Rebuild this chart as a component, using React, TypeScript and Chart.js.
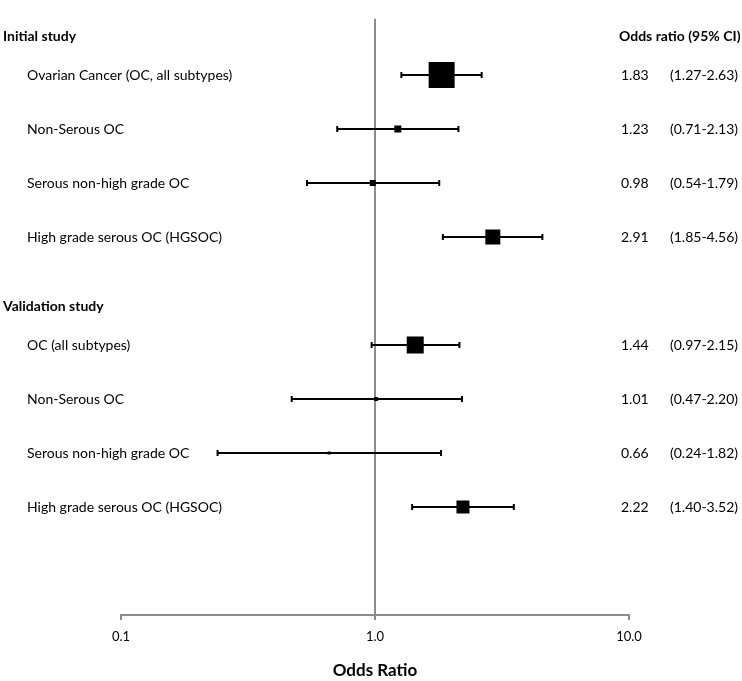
import React, { useEffect, useRef } from 'react';
import { Chart, registerables } from 'chart.js';

Chart.register(...registerables);

const groupTitles = ['Initial study', 'Validation study'];
const rowLabels = [
  'Ovarian Cancer (OC, all subtypes)',
  'Non-Serous OC',
  'Serous non-high grade OC',
  'High grade serous OC (HGSOC)',
  'OC (all subtypes)',
  'Non-Serous OC',
  'Serous non-high grade OC',
  'High grade serous OC (HGSOC)',
];
const rowGroup = [0, 0, 0, 0, 1, 1, 1, 1];
const oddsRatio = [1.83, 1.23, 0.98, 2.91, 1.44, 1.01, 0.66, 2.22];
const ciLower = [1.27, 0.71, 0.54, 1.85, 0.97, 0.47, 0.24, 1.4];
const ciUpper = [2.63, 2.13, 1.79, 4.56, 2.15, 2.2, 1.82, 3.52];
const orText = ['1.83', '1.23', '0.98', '2.91', '1.44', '1.01', '0.66', '2.22'];
const ciText = ['(1.27-2.63)', '(0.71-2.13)', '(0.54-1.79)', '(1.85-4.56)', '(0.97-2.15)', '(0.47-2.20)', '(0.24-1.82)', '(1.40-3.52)'];
const studyWeight = [26, 7, 6, 15, 17, 4, 3, 13];
const xTickValues = [0.1, 1, 10];
const xTickLabels = ['0.1', '1.0', '10.0'];
const refValue = 1;

const FONT = 'Lato, "Open Sans", sans-serif';
const GRAY = '#8c8c8c';

// row position: group header at g*5, its rows after it
const rowPos = rowLabels.map((_, i) => {
  const g = rowGroup[i];
  const within = rowGroup.slice(0, i).filter((x) => x === g).length;
  return g * 5 + within + 1;
});
const headerPos = groupTitles.map((_, g) => g * 5 + 0.28);

const textPlugin = {
  id: 'forestText',
  afterDraw(chart: any) {
    const ctx = chart.ctx;
    const y = chart.scales.y;
    ctx.save();
    ctx.fillStyle = '#000';
    ctx.textBaseline = 'middle';
    ctx.textAlign = 'left';
    ctx.font = `bold 14px ${FONT}`;
    groupTitles.forEach((t, g) => {
      ctx.fillText(t, 3, y.getPixelForValue(headerPos[g]));
    });
    ctx.fillText('Odds ratio (95% CI)', 619, y.getPixelForValue(headerPos[0]));
    ctx.font = `14px ${FONT}`;
    rowLabels.forEach((t, i) => {
      const py = y.getPixelForValue(rowPos[i]);
      ctx.fillText(t, 27, py);
      ctx.fillText(orText[i], 621, py);
      ctx.fillText(ciText[i], 670, py);
    });
    ctx.restore();
  },
};

export default function App() {
  const ref = useRef<HTMLCanvasElement | null>(null);
  useEffect(() => {
    if (!ref.current) return;
    const datasets: any[] = [];
    datasets.push({
      type: 'scatter',
      data: rowPos.map((r, i) => ({ x: oddsRatio[i], y: r })),
      pointStyle: 'rect',
      pointRadius: studyWeight.map((s) => s / Math.SQRT2),
      pointHoverRadius: studyWeight.map((s) => s / Math.SQRT2),
      backgroundColor: '#000',
      borderWidth: 0,
      pointBorderWidth: 0,
      order: 0,
    });
    rowPos.forEach((r, i) => {
      datasets.push({
        type: 'line',
        data: [
          { x: ciLower[i], y: r },
          { x: ciUpper[i], y: r },
        ],
        borderColor: '#000',
        borderWidth: 2,
        pointStyle: 'line',
        rotation: 90,
        pointRadius: 3,
        pointBorderWidth: 2,
        pointBorderColor: '#000',
        order: 1,
      });
    });
    datasets.push({
      type: 'line',
      data: [
        { x: refValue, y: -0.05 },
        { x: refValue, y: 11 },
      ],
      borderColor: GRAY,
      borderWidth: 2,
      pointRadius: 0,
      order: 2,
    });

    const chart = new Chart(ref.current, {
      type: 'scatter',
      data: { datasets },
      plugins: [textPlugin],
      options: {
        responsive: false,
        animation: false,
        events: [],
        layout: { padding: { left: 121, right: 113, top: 15, bottom: 0 } },
        plugins: { legend: { display: false }, tooltip: { enabled: false } },
        scales: {
          x: {
            type: 'logarithmic',
            min: 0.1,
            max: 10,
            afterBuildTicks: (s: any) => {
              s.ticks = xTickValues.map((v) => ({ value: v }));
            },
            afterFit: (s: any) => {
              s.paddingLeft = 0;
              s.paddingRight = 0;
            },
            ticks: {
              autoSkip: false,
              maxRotation: 0,
              color: '#000',
              padding: 9,
              font: { family: FONT, size: 13 },
              callback: (_v: any, i: number) => xTickLabels[i],
            },
            grid: {
              drawOnChartArea: false,
              drawTicks: true,
              tickLength: 5,
              color: GRAY,
              lineWidth: 2,
            },
            border: { display: true, color: GRAY, width: 2 },
            title: {
              display: true,
              text: 'Odds Ratio',
              color: '#000',
              font: { family: FONT, size: 17, weight: 'bold' },
              padding: { top: 7, bottom: 0 },
            },
          },
          y: {
            type: 'linear',
            reverse: true,
            min: -0.05,
            max: 11,
            display: false,
          },
        },
      },
    } as any);
    return () => chart.destroy();
  }, []);
  return (
    <div style={{ position: 'fixed', left: 0, top: 0, width: 742, height: 681, background: '#fff' }}>
      <canvas ref={ref} width={742} height={681} style={{ display: 'block' }} />
    </div>
  );
}
